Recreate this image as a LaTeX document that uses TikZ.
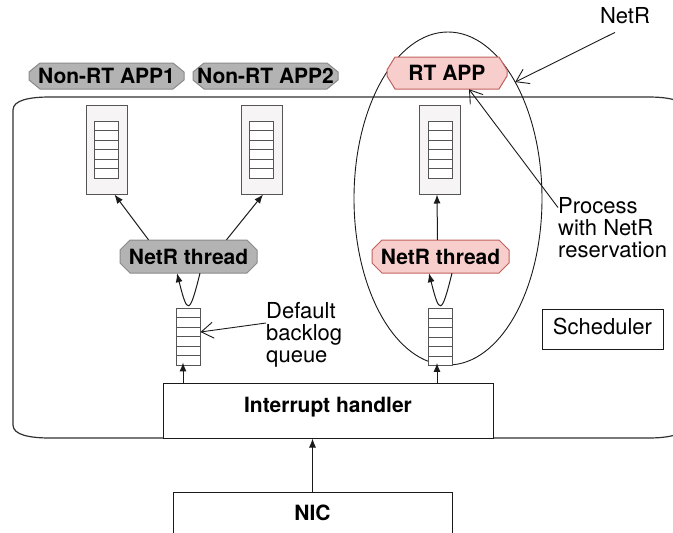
\documentclass[tikz,border=0pt]{standalone}
\usepackage{fontspec}
\setmainfont{TeX Gyre Heros}
\usetikzlibrary{arrows.meta,shapes.geometric,calc}

\definecolor{grayfill}{HTML}{B3B3B3}
\definecolor{grayline}{HTML}{8A8A8A}
\definecolor{pinkfill}{HTML}{F8CECC}
\definecolor{pinkline}{HTML}{C0605C}
\definecolor{buffill}{HTML}{F6F4F4}
\definecolor{bufline}{HTML}{555555}
\definecolor{ink}{HTML}{1A1A1A}

% chamfered label: #1 name, #2 x, #3 y, #4 width, #5 height,
% #6 chamfer x, #7 chamfer y, #8 outline style, #9 text
\newcommand\octonode[9]{%
  \draw[#8] ($(#2,#3)+(-#4/2+#6,-#5/2)$) -- ($(#2,#3)+(#4/2-#6,-#5/2)$)
    -- ($(#2,#3)+(#4/2,-#5/2+#7)$) -- ($(#2,#3)+(#4/2,#5/2-#7)$)
    -- ($(#2,#3)+(#4/2-#6,#5/2)$) -- ($(#2,#3)+(-#4/2+#6,#5/2)$)
    -- ($(#2,#3)+(-#4/2,#5/2-#7)$) -- ($(#2,#3)+(-#4/2,-#5/2+#7)$) -- cycle;
  \node[tag, minimum width=#4, minimum height=#5] (#1) at (#2,#3) {#9};}

\tikzset{
  tag/.style={inner sep=0, font=\fontsize{21}{22}\selectfont\bfseries},
  lbl/.style={inner sep=0, font=\fontsize{22}{22}\selectfont, align=left},
  grayocto/.style={draw=grayline, fill=grayfill, line width=1pt},
  pinkocto/.style={draw=pinkline, fill=pinkfill, line width=1pt},
  plainbox/.style={draw=ink, fill=white, line width=1pt, inner sep=0},
  buf/.style={draw=bufline, fill=buffill, line width=1pt, inner sep=0,
    minimum width=41pt, minimum height=89pt},
  stack/.style={draw=bufline, fill=white, line width=0.9pt, inner sep=0,
    minimum width=24pt, minimum height=57pt,
    path picture={\foreach \k in {1,...,5}
      \draw[bufline, line width=0.9pt]
        ($(path picture bounding box.north west)!\k/6!(path picture bounding box.south west)$) --
        ($(path picture bounding box.north east)!\k/6!(path picture bounding box.south east)$);}},
  flow/.style={draw=ink, line width=1pt, -{Latex[length=9pt,width=7pt]}},
  note/.style={draw=ink, line width=0.9pt, -{Straight Barb[length=12pt,width=16pt]}}
}

\begin{document}
\begin{tikzpicture}[x=1pt, y=-1pt]
\useasboundingbox (0,0) rectangle (673,533);
\clip (0,0) rectangle (673,533);

% kernel area
\draw[draw=ink!90, line width=1.2pt]
  (13,110) .. controls (13,100) and (30,97) .. (50,97) -- (648,97)
  .. controls (668,97) and (685,100) .. (685,110) -- (685,425)
  .. controls (685,435) and (668,438) .. (648,438) -- (50,438)
  .. controls (30,438) and (13,435) .. (13,425) -- cycle;

% NetR reservation region
\node[draw=ink, line width=0.9pt, ellipse, inner sep=0, outer sep=0,
  minimum width=188pt, minimum height=333pt] (nr) at (448,198.5) {};

% socket buffers
\node[buf] (b1) at (106.5,149.5) {};
\node[stack] (s1) at (106.5,149.5) {};
\node[buf] (b2) at (261.5,149.5) {};
\node[stack] (s2) at (261.5,149.5) {};
\node[buf] (b3) at (440,149.5) {};
\node[stack] (s3) at (440,149.5) {};

% applications and threads
\octonode{a1}{106.5}{76}{155}{26}{11}{9}{grayocto}{Non-RT APP1}
\octonode{a2}{265.5}{76}{145}{26}{11}{9}{grayocto}{Non-RT APP2}
\octonode{rt}{447}{73}{120}{32}{8}{13}{pinkocto}{RT APP}
\octonode{t1}{188.5}{256.5}{137}{33}{10}{10}{grayocto}{NetR thread}
\octonode{t2}{440.5}{256.5}{137}{33}{10}{10}{pinkocto}{NetR thread}

% backlog queues
\node[stack] (q1) at (188,336.5) {};
\node[stack] (q2) at (440,337) {};

% boxes
\node[plainbox, tag, minimum width=330pt, minimum height=55pt, text height=15pt, text depth=12pt]
  (ih) at (328,410.5) {Interrupt handler};
\node[plainbox, tag, minimum width=279pt, minimum height=45pt, text depth=4pt]
  (nic) at (312.5,514.5) {NIC};
\node[plainbox, lbl, minimum width=121pt, minimum height=40pt, text depth=5pt]
  (sched) at (602.5,329) {Scheduler};

% annotations
\node[lbl] (netr) at (625,16) {NetR};
\node[lbl, anchor=north west] (proc) at (558,197.5) {Process\\with NetR\\reservation};
\node[lbl, anchor=north west] (dflt) at (266,302.5) {Default\\backlog\\queue};

% data flow
\draw[flow] (nic.north) -- (nic.north |- ih.south);
\draw[flow] ([xshift=-5pt]q1.south |- ih.north) -- ([xshift=-5pt,yshift=3pt]q1.south);
\draw[flow] ([xshift=-3pt]q2.south |- ih.north) -- ([xshift=-3pt,yshift=3pt]q2.south);
\draw[flow] ([xshift=11.5pt]t1.south) .. controls ($(t1.south)+(1,42)$) and ($(t1.south)+(-1,42)$) .. ([xshift=-11.5pt]t1.south);
\draw[flow] ([xshift=11.5pt]t2.south) .. controls ($(t2.south)+(1,42)$) and ($(t2.south)+(-1,42)$) .. ([xshift=-11.5pt]t2.south);
\draw[flow] ([xshift=-40pt]t1.north) -- ([xshift=8pt]b1.south);
\draw[flow] ([xshift=38pt]t1.north) -- ([xshift=1.5pt]b2.south);
\draw[flow] ([xshift=-3pt]t2.north) -- ([xshift=-3pt]b3.south);

% annotation pointers
\draw[note] ([xshift=-10pt,yshift=-8pt]netr.south) -- (nr.60);
\draw[note] ([yshift=-10pt]proc.north west) -- ([xshift=22pt]rt.south);
\draw[note] ([yshift=-20.5pt]dflt.north west) -- ([yshift=4.5pt]q1.east);
\end{tikzpicture}
\end{document}
